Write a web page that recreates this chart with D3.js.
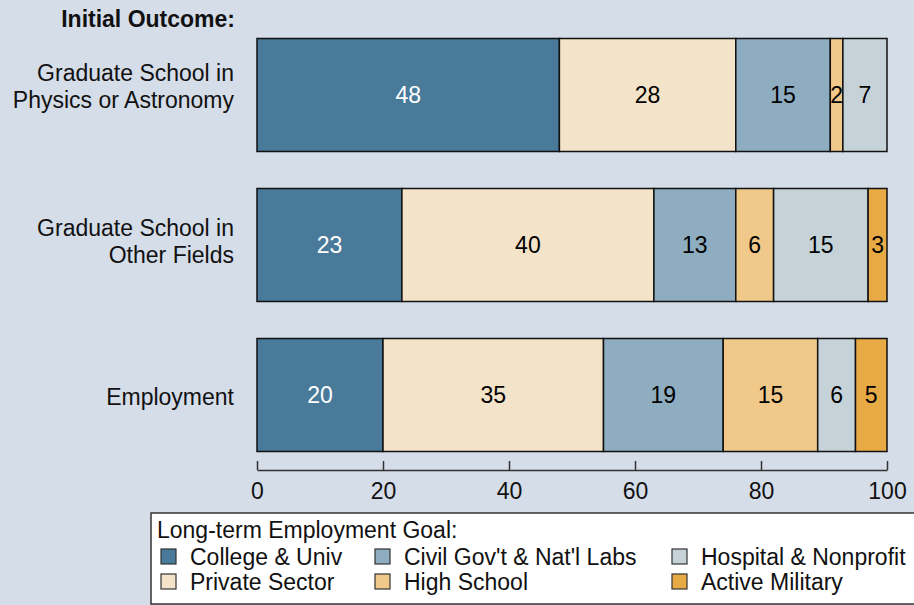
<!DOCTYPE html>
<html>
<head>
<meta charset="utf-8">
<script src="https://cdn.jsdelivr.net/npm/d3@7"></script>
<style>
  body { margin: 0; background: #d5dde9; }
  svg { display: block; font-family: "Liberation Sans", Arial, sans-serif; }
</style>
</head>
<body>
<svg id="chart" width="914" height="605"></svg>
<script>
const width = 914
const height = 605

// data
const outcomes = [['Graduate School in', 'Physics or Astronomy'], ['Graduate School in', 'Other Fields'], ['Employment']]
const goals = ['College & Univ', 'Private Sector', "Civil Gov't & Nat'l Labs", 'High School', 'Hospital & Nonprofit', 'Active Military']
const physicsGrad = [48, 28, 15, 2, 7, 0]
const otherGrad = [23, 40, 13, 6, 15, 3]
const employment = [20, 35, 19, 15, 6, 5]
const xTicks = [0, 20, 40, 60, 80, 100]

const colors = ['#4a7a9a', '#f3e3c8', '#8eadc0', '#f0c98a', '#c5d3d9', '#e8aa45']
const labelColors = ['#ffffff', '#000', '#000', '#000', '#000', '#000']

const rows = [physicsGrad, otherGrad, employment]

const svg = d3.select('#chart')
svg.append('rect').attr('width', width).attr('height', height).attr('fill', '#d5dde9')

const x = d3.scaleLinear().domain([0, 100]).range([257, 887])
const y = d3.scaleBand().domain(d3.range(rows.length)).range([38.5, 451.5]).paddingInner(0.2467)
// label centres are spaced a little wider than the bars in the original
const yLabel = d3.scalePoint().domain(d3.range(rows.length)).range([86.5, 396.5])

// stack each row
const stacked = rows.map((vals, r) => {
  let acc = 0
  return vals.map((v, i) => {
    const seg = {row: r, key: i, x0: acc, x1: acc + v, v: v}
    acc += v
    return seg
  }).filter(d => d.v > 0)
})

const gRows = svg.selectAll('g.row').data(stacked).enter().append('g').attr('class', 'row')

gRows.selectAll('rect').data(d => d).enter().append('rect')
  .attr('x', d => x(d.x0))
  .attr('y', d => y(d.row))
  .attr('width', d => x(d.x1) - x(d.x0))
  .attr('height', y.bandwidth())
  .attr('fill', d => colors[d.key])
  .attr('stroke', '#111')
  .attr('stroke-width', 1.5)

gRows.selectAll('text').data(d => d).enter().append('text')
  .attr('x', d => (x(d.x0) + x(d.x1)) / 2)
  .attr('y', d => y(d.row) + y.bandwidth() / 2)
  .attr('dy', '0.36em')
  .attr('text-anchor', 'middle')
  .attr('font-size', 23)
  .attr('fill', d => labelColors[d.key])
  .text(d => d.v)

// category labels
const catLabels = svg.selectAll('text.cat').data(outcomes).enter().append('text')
  .attr('class', 'cat')
  .attr('text-anchor', 'end')
  .attr('font-size', 23)
  .attr('fill', '#111')
catLabels.each(function (lines, i) {
  const cy = yLabel(i)
  const top = cy - (lines.length - 1) * 27 / 2
  d3.select(this).selectAll('tspan').data(lines).enter().append('tspan')
    .attr('x', 234)
    .attr('y', (d, j) => top + j * 27)
    .attr('dy', '0.36em')
    .text(d => d)
})

svg.append('text')
  .attr('x', 235)
  .attr('y', 27)
  .attr('text-anchor', 'end')
  .attr('font-size', 23)
  .attr('font-weight', 'bold')
  .attr('fill', '#111')
  .text('Initial Outcome:')

// x axis
const axis = d3.axisBottom(x).tickValues(xTicks).tickSizeInner(-9).tickSizeOuter(0).tickPadding(13)
const gAxis = svg.append('g').attr('transform', 'translate(0,470)').call(axis)
gAxis.select('.domain').attr('stroke', '#333').attr('stroke-width', 1.5)
gAxis.selectAll('.tick line').attr('stroke', '#333').attr('stroke-width', 1.5)
gAxis.selectAll('.tick text').attr('font-size', 23).attr('font-family', '"Liberation Sans", Arial, sans-serif').attr('fill', '#111')

// legend
const legendColX = [161, 375, 672]
const legend = svg.append('g')
legend.append('rect')
  .attr('x', 151).attr('y', 513)
  .attr('width', 800).attr('height', 91)
  .attr('fill', '#fff')
  .attr('stroke', '#333')
  .attr('stroke-width', 1.5)
legend.append('text')
  .attr('x', 157).attr('y', 530).attr('dy', '0.36em')
  .attr('font-size', 23).attr('fill', '#111')
  .text('Long-term Employment Goal:')

const items = legend.selectAll('g.item').data(goals).enter().append('g')
  .attr('class', 'item')
  .attr('transform', (d, i) => `translate(${legendColX[Math.floor(i / 2)]}, ${557 + (i % 2) * 25})`)
items.append('rect')
  .attr('x', 0).attr('y', -8)
  .attr('width', 15).attr('height', 15)
  .attr('fill', (d, i) => colors[i])
  .attr('stroke', '#333')
  .attr('stroke-width', 1.2)
items.append('text')
  .attr('x', 29).attr('dy', '0.36em')
  .attr('font-size', 23).attr('fill', '#111')
  .text(d => d)
</script>
</body>
</html>
